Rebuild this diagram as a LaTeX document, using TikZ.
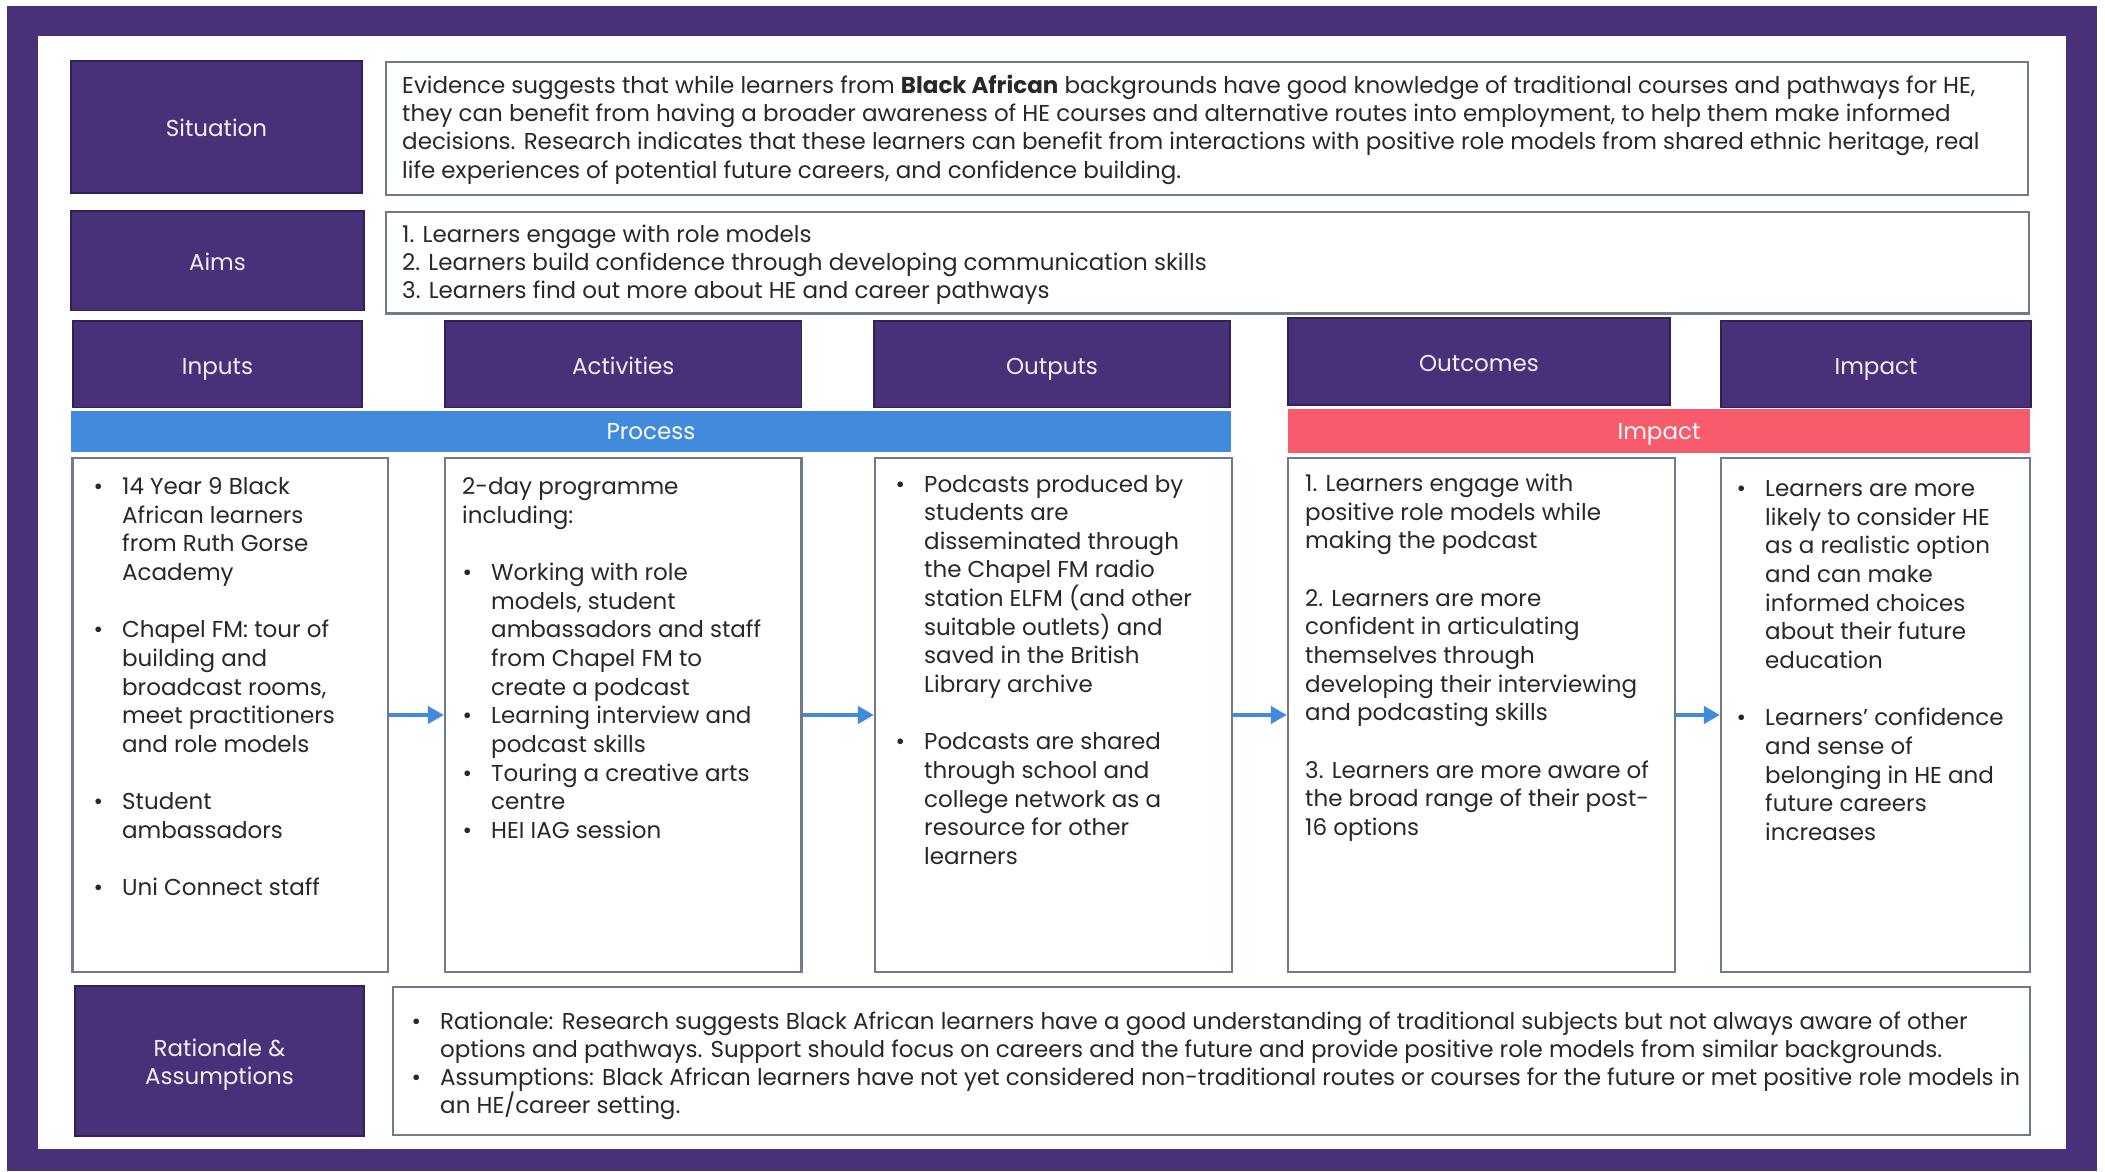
\documentclass[tikz,border=0pt]{standalone}
\usepackage{fontspec}
\setmainfont{Poppins}
\usetikzlibrary{arrows.meta}

\definecolor{deep}{RGB}{72,49,120}
\definecolor{deepline}{RGB}{48,33,88}
\definecolor{headtxt}{RGB}{242,238,248}
\definecolor{boxline}{RGB}{110,124,137}
\definecolor{bodytxt}{RGB}{40,40,40}
\definecolor{procblue}{RGB}{66,139,220}
\definecolor{imppink}{RGB}{248,91,107}

% wide boxes and stage panels use slightly different line pitches
\newcommand{\bodyfont}{\fontsize{23pt}{28.2pt}\selectfont}
\newcommand{\panelfont}{\fontsize{23pt}{28.65pt}\selectfont}
\newcommand{\dotitem}{\leavevmode\llap{\textbullet\hspace{19pt}}}
\newcommand{\gapline}{\\[28.65pt]}

\begin{document}
\begin{tikzpicture}[x=1pt,y=-1pt,
  head/.style={draw=deepline, line width=1.5pt, fill=deep, text=headtxt,
    inner sep=0pt, align=center, font=\bodyfont, text height=20.5pt, text depth=1pt},
  headlabel/.style={inner sep=0pt, align=center, text=headtxt, font=\bodyfont},
  panel/.style={draw=boxline, line width=2.2pt, fill=white, inner sep=0pt},
  band/.style={inner sep=0pt, text=white, font=\bodyfont, text height=18.6pt, text depth=2pt},
  txt/.style={anchor=base west, inner sep=0pt, text=bodytxt, font=\bodyfont},
  ptxt/.style={anchor=base west, inner sep=0pt, text=bodytxt, font=\panelfont},
  flow/.style={draw=procblue, line width=4.5pt, -{Triangle[length=16pt,width=17pt]}}]

\useasboundingbox (0,0) rectangle (2105,1171);

% outer frame
\fill[deep] (7,6) rectangle (2097,1171);
\fill[white] (38,36) rectangle (2066,1149);

% row headers
\node[head, minimum width=291pt, minimum height=132pt] (sithead) at (216.5,127) {Situation};
\node[head, minimum width=293pt, minimum height=99.5pt] (aimhead) at (217.5,260.75) {Aims};
\node[head, minimum width=289pt, minimum height=86.5pt] (inhead) at (217.5,364.25) {Inputs};
\node[head, minimum width=356.5pt, minimum height=86.5pt] (acthead) at (623.25,364.25) {Activities};
\node[head, minimum width=356pt, minimum height=86.5pt] (outhead) at (1052,364.25) {Outputs};
\node[head, minimum width=382pt, minimum height=87pt] (ochead) at (1479,361.5) {Outcomes};
\node[head, minimum width=310pt, minimum height=86.5pt] (imphead) at (1876,364.25) {Impact};
\node[head, minimum width=289pt, minimum height=150pt] (rathead) at (219.5,1061) {};
\node[headlabel] (ratlabel) at ([yshift=-3.5pt]rathead.center) {Rationale \&\\Assumptions};

% wide text boxes
\node[panel, minimum width=1642pt, minimum height=133pt] (sitbox) at (1207,128.5) {};
\node[panel, minimum width=1643pt, minimum height=101.5pt] (aimbox) at (1207.5,262.75) {};
\node[panel, minimum width=1637pt, minimum height=148pt] (ratbox) at (1211.5,1061) {};

% stage bands
\node[band, fill=procblue, minimum width=1160pt, minimum height=41pt] (procband) at (651,431) {Process};
\node[band, fill=imppink, minimum width=742pt, minimum height=44pt] (impband) at (1659,431) {Impact};

% stage panels
\node[panel, minimum width=315.5pt, minimum height=514pt] (inbox) at (230.25,715) {};
\node[panel, minimum width=356.5pt, minimum height=514pt] (actbox) at (623.25,715) {};
\node[panel, minimum width=357pt, minimum height=514pt] (outbox) at (1053.5,715) {};
\node[panel, minimum width=387pt, minimum height=514pt] (ocbox) at (1481.5,715) {};
\node[panel, minimum width=309pt, minimum height=514pt] (impbox) at (1875.5,715) {};

% flow arrows
\draw[flow] (inbox.east) -- (actbox.west);
\draw[flow] (actbox.east) -- (outbox.west);
\draw[flow] (outbox.east) -- (ocbox.west);
\draw[flow] (ocbox.east) -- (impbox.west);

% situation text
\node[txt] (sittext) at (402,93.5) {\parbox[t]{1620pt}{\raggedright
Evidence suggests that while learners from \textbf{Black African} backgrounds have good knowledge of traditional courses and pathways for HE,\\
they can benefit from having a broader awareness of HE courses and alternative routes into employment, to help them make informed\\
decisions. Research indicates that these learners can benefit from interactions with positive role models from shared ethnic heritage, real\\
life experiences of potential future careers, and confidence building.}};

% aims text
\node[txt] (aimtext) at (402,242) {\parbox[t]{1620pt}{\raggedright
1. Learners engage with role models\\
2. Learners build confidence through developing communication skills\\
3. Learners find out more about HE and career pathways}};

% inputs text
\node[ptxt] (intext) at (122,494.5) {\parbox[t]{260pt}{\raggedright
\dotitem 14 Year 9 Black\\
African learners\\
from Ruth Gorse\\
Academy\gapline
\dotitem Chapel FM: tour of\\
building and\\
broadcast rooms,\\
meet practitioners\\
and role models\gapline
\dotitem Student\\
ambassadors\gapline
\dotitem Uni Connect staff}};

% activities text
\node[ptxt] (acttext) at (462,494.5) {\parbox[t]{330pt}{\raggedright
2-day programme\\
including:\gapline
\hspace*{29pt}\dotitem Working with role\\
\hspace*{29pt}models, student\\
\hspace*{29pt}ambassadors and staff\\
\hspace*{29pt}from Chapel FM to\\
\hspace*{29pt}create a podcast\\
\hspace*{29pt}\dotitem Learning interview and\\
\hspace*{29pt}podcast skills\\
\hspace*{29pt}\dotitem Touring a creative arts\\
\hspace*{29pt}centre\\
\hspace*{29pt}\dotitem HEI IAG session}};

% outputs text
\node[ptxt] (outtext) at (924,492) {\parbox[t]{310pt}{\raggedright
\dotitem Podcasts produced by\\
students are\\
disseminated through\\
the Chapel FM radio\\
station ELFM (and other\\
suitable outlets) and\\
saved in the British\\
Library archive\gapline
\dotitem Podcasts are shared\\
through school and\\
college network as a\\
resource for other\\
learners}};

% outcomes text
\node[ptxt] (octext) at (1305,491.5) {\parbox[t]{365pt}{\raggedright
1. Learners engage with\\
positive role models while\\
making the podcast\gapline
2. Learners are more\\
confident in articulating\\
themselves through\\
developing their interviewing\\
and podcasting skills\gapline
3. Learners are more aware of\\
the broad range of their post-\\
16 options}};

% impact text
\node[ptxt] (imptext) at (1765,496.5) {\parbox[t]{260pt}{\raggedright
\dotitem Learners are more\\
likely to consider HE\\
as a realistic option\\
and can make\\
informed choices\\
about their future\\
education\gapline
\dotitem Learners’ confidence\\
and sense of\\
belonging in HE and\\
future careers\\
increases}};

% rationale text
\node[txt] (rattext) at (440,1029) {\parbox[t]{1580pt}{\raggedright
\dotitem Rationale: Research suggests Black African learners have a good understanding of traditional subjects but not always aware of other\\
options and pathways. Support should focus on careers and the future and provide positive role models from similar backgrounds.\\
\dotitem Assumptions: Black African learners have not yet considered non-traditional routes or courses for the future or met positive role models in\\
an HE/career setting.}};

\end{tikzpicture}
\end{document}
